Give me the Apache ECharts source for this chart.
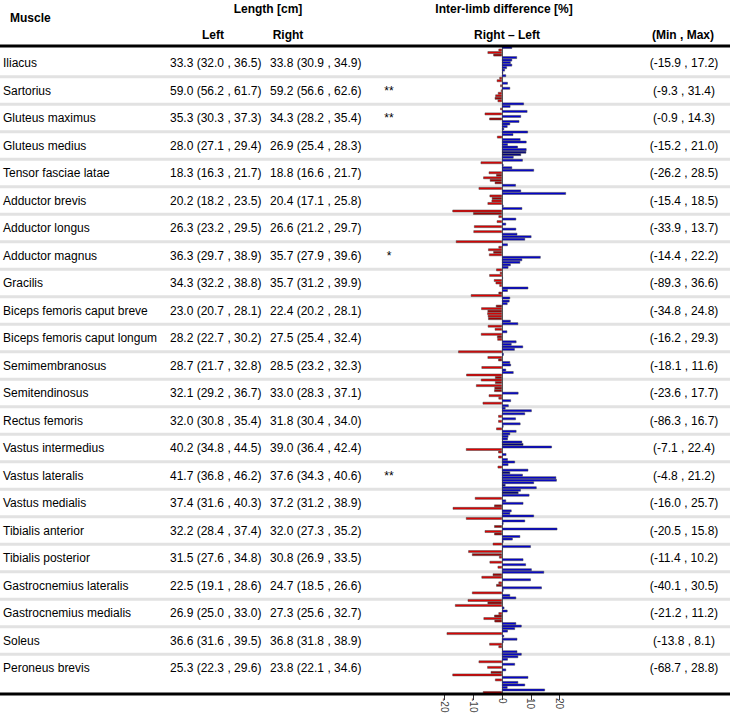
<!DOCTYPE html>
<html><head><meta charset="utf-8">
<script src="https://cdn.jsdelivr.net/npm/echarts@6/dist/echarts.min.js"></script>
<style>html,body{margin:0;padding:0;background:#fff}#c{width:730px;height:717px}</style>
</head><body><div id="c"></div>
<script>
var muscles = ["Iliacus","Sartorius","Gluteus maximus","Gluteus medius","Tensor fasciae latae","Adductor brevis","Adductor longus","Adductor magnus","Gracilis","Biceps femoris caput breve","Biceps femoris caput longum","Semimembranosus","Semitendinosus","Rectus femoris","Vastus intermedius","Vastus lateralis","Vastus medialis","Tibialis anterior","Tibialis posterior","Gastrocnemius lateralis","Gastrocnemius medialis","Soleus","Peroneus brevis"];
var leftMed = [33.3,59.0,35.3,28.0,18.3,20.2,26.3,36.3,34.3,23.0,28.2,28.7,32.1,32.0,40.2,41.7,37.4,32.2,31.5,22.5,26.9,36.6,25.3];
var leftLo  = [32.0,56.2,30.3,27.1,16.3,18.2,23.2,29.7,32.2,20.7,22.7,21.7,29.2,30.8,34.8,36.8,31.6,28.4,27.6,19.1,25.0,31.6,22.3];
var leftHi  = [36.5,61.7,37.3,29.4,21.7,23.5,29.5,38.9,38.8,28.1,30.2,32.8,36.7,35.4,44.5,46.2,40.3,37.4,34.8,28.6,33.0,39.5,29.6];
var rightMed = [33.8,59.2,34.3,26.9,18.8,20.4,26.6,35.7,35.7,22.4,27.5,28.5,33.0,31.8,39.0,37.6,37.2,32.0,30.8,24.7,27.3,36.8,23.8];
var rightLo  = [30.9,56.6,28.2,25.4,16.6,17.1,21.2,27.9,31.2,20.2,25.4,23.2,28.3,30.4,36.4,34.3,31.2,27.3,26.9,18.5,25.6,31.8,22.1];
var rightHi  = [34.9,62.6,35.4,28.3,21.7,25.8,29.7,39.6,39.9,28.1,32.4,32.3,37.1,34.0,42.4,40.6,38.9,35.2,33.5,26.6,32.7,38.9,34.6];
var signif = ["","**","**","","","","","*","","","","","","","","**","","","","","","",""];
var diffMin = [-15.9,-9.3,-0.9,-15.2,-26.2,-15.4,-33.9,-14.4,-89.3,-34.8,-16.2,-18.1,-23.6,-86.3,-7.1,-4.8,-16.0,-20.5,-11.4,-40.1,-21.2,-13.8,-68.7];
var diffMax = [17.2,31.4,14.3,21.0,28.5,18.5,13.7,22.2,36.6,24.8,29.3,11.6,17.7,16.7,22.4,21.2,25.7,15.8,10.2,30.5,11.2,8.1,28.8];
// per-subject right-left differences (%) per muscle, top to bottom within each row
var diffs = [
 [3.5,-1.2,-5.0,-3.0,5.2,3.5,3.0,3.5,1.7,1.0,0.4],
 [1.4,-0.9,-1.8,2.0,-0.6,2.8,-0.4,-1.4,-2.3,-2.5,-1.5],
 [7.6,2.9,-0.6,8.8,-6.0,6.6,-4.4,6.0,2.8,1.9,0.7],
 [9.0,3.9,-1.7,6.4,8.5,2.0,5.5,8.5,8.4,6.6,4.0],
 [7.2,-7.4,0.5,3.5,11.1,-4.6,-2.0,-6.5,-4.2,-2.5,4.8],
 [-8.1,6.6,22.2,-4.3,-3.5,-3.6,-5.0,0.5,7.0,-17.2,-10.0],
 [-1.2,4.9,-1.8,1.4,-9.7,4.9,-9.9,5.3,10.2,8.0,-16.0],
 [2.0,-1.2,-4.8,-3.0,-4.5,13.4,7.0,6.3,3.0,2.2,-2.0],
 [-0.7,-4.4,0.3,-2.8,-2.2,-0.9,9.1,2.0,-1.2,-10.8,2.8],
 [2.6,1.9,-2.1,-7.2,-5.0,-5.1,-4.9,-4.8,3.0,5.6,-4.9],
 [-2.5,1.8,-7.3,-1.7,-1.6,5.0,3.3,7.3,4.4,-15.2,0.6],
 [-5.0,-1.3,2.8,3.1,-7.1,1.4,4.0,-12.4,-2.4,-7.3,-2.4],
 [-9.0,-2.6,-2.7,5.7,-4.6,-1.2,3.1,-6.7,2.3,1.2,10.3],
 [8.0,-1.3,4.8,-1.3,6.4,0.5,-2.0,5.0,2.8,2.2,2.0],
 [7.0,7.4,17.3,-12.5,-1.3,1.5,-1.3,2.0,4.5,2.2,-1.5],
 [9.1,2.8,7.2,18.8,19.0,11.1,1.2,12.0,6.5,5.7,9.5],
 [-9.4,1.4,7.4,-2.7,-17.1,3.3,2.8,11.1,-12.5,8.0,0.5],
 [-2.7,19.2,-6.0,-2.7,6.3,3.7,0.5,-3.2,10.0,0.3,-11.7],
 [-10.4,-1.0,7.4,-4.3,8.3,-1.5,10.3,14.6,-3.2,-7.1,10.0],
 [-1.2,-2.0,13.8,0.5,-10.4,2.8,4.9,-11.9,-5.0,-16.3,0.8],
 [1.9,-1.2,-2.7,-6.4,-2.6,4.9,6.8,4.5,2.0,-19.2,0.7],
 [5.3,0.5,-4.4,-1.2,0.3,5.3,6.8,5.6,2.0,-8.1,4.5],
 [-5.1,1.4,-3.9,-17.2,9.1,-2.4,5.6,8.0,1.9,14.9,-6.6]
];
// bars drawn in the darker shade (index within row)
var darkBars = [[3],[9],[6],[8,9],[6,8,9],[4,10],[],[3],[8],[2,4,7],[3],[1,8,10],[1,2],[],[1],[1,6,9],[3],[0,3],[0,8],[1,8],[2,4],[],[2]];
var tickValues = [-20,-10,0,10,20];

var FONT = "'Liberation Sans', Arial, sans-serif";
var chart = echarts.init(document.getElementById('c'), null, {renderer:'svg'});

var nSub = diffs[0].length;
var series = [];
for (var k = 0; k < nSub; k++) {
  var data = [];
  for (var r = 0; r < muscles.length; r++) {
    var v = diffs[r][k];
    var dark = darkBars[r].indexOf(k) >= 0;
    var col = v < 0 ? (dark ? '#a00000' : '#e00000') : (dark ? '#000080' : '#0000d0');
    data.push({value: v, itemStyle: {color: col}});
  }
  series.push({
    type: 'bar', data: data, barGap: '0%', barCategoryGap: '2%',
    itemStyle: {borderColor: '#444', borderWidth: 0.5},
    silent: true, animation: false, z: 5
  });
}

var g = [];
var gridTop = 46, gridBottomY = 694;
var textTop = 63, textStep = 27.5;
// row separators (between table rows)
for (var i = 0; i < muscles.length - 1; i++) {
  var y = textTop + textStep * (i + 0.5);
  g.push({type:'rect', shape:{x:0, y:y-1.5, width:730, height:3}, style:{fill:'#e2e2e2'}, z:0, silent:true});
}
// thick lines
g.push({type:'rect', shape:{x:0, y:44.5, width:730, height:3}, style:{fill:'#000'}, z:10});
g.push({type:'rect', shape:{x:0, y:692.5, width:730, height:3}, style:{fill:'#000'}, z:10});

function txt(s, x, y, align, bold) {
  g.push({type:'text', x:x, y:y, z:10, silent:true,
    style:{text:s, fill:'#000', font:(bold?'bold ':'')+'12px '+FONT, textAlign:align, textVerticalAlign:'middle'}});
}
txt('Muscle', 10, 18, 'left', true);
txt('Length [cm]', 268, 9, 'center', true);
txt('Left', 213, 35, 'center', true);
txt('Right', 288, 35, 'center', true);
txt('Inter-limb difference [%]', 504, 9, 'center', true);
txt('Right \u2013 Left', 507, 35, 'center', true);
txt('(Min , Max)', 683, 35, 'center', true);

function f(v){ return v.toFixed(1); }
for (var r = 0; r < muscles.length; r++) {
  var ty = textTop + textStep * r;
  txt(muscles[r], 3, ty, 'left', false);
  txt(f(leftMed[r]) + ' (' + f(leftLo[r]) + ' , ' + f(leftHi[r]) + ')', 170, ty, 'left', false);
  txt(f(rightMed[r]) + ' (' + f(rightLo[r]) + ' , ' + f(rightHi[r]) + ')', 270, ty, 'left', false);
  if (signif[r]) txt(signif[r], 389, ty, 'center', false);
  txt('(' + f(diffMin[r]) + ' , ' + f(diffMax[r]) + ')', 684, ty, 'center', false);
}

var pxPerUnit = 2.88, zeroX = 502, half = 30;
chart.setOption({
  animation: false,
  grid: {left: zeroX - half*pxPerUnit, width: 2*half*pxPerUnit, top: gridTop, height: gridBottomY - gridTop, containLabel: false},
  xAxis: {
    type: 'value', min: -half, max: half,
    axisLine: {show: false},
    splitLine: {show: false},
    axisTick: {show: true, customValues: tickValues, length: 6, lineStyle: {color: '#333', width: 1}},
    axisLabel: {show: true, customValues: tickValues, rotate: -90, fontSize: 10, color: '#444', fontFamily: FONT, margin: 4}
  },
  yAxis: {
    type: 'category', data: muscles, inverse: true,
    axisLabel: {show: false}, axisTick: {show: false},
    axisLine: {show: true, onZero: true, lineStyle: {color: '#555', width: 1}},
    splitLine: {show: false}
  },
  series: series,
  graphic: g
});
</script></body></html>
